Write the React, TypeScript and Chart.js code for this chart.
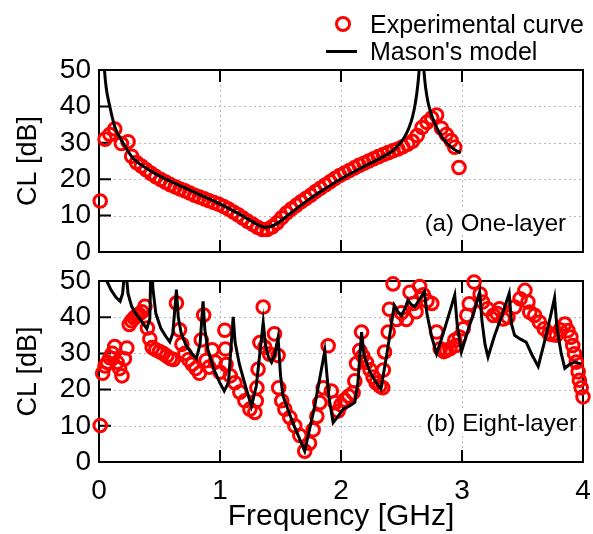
import React, { useEffect, useRef } from "react";
import { Chart, registerables } from "chart.js";

Chart.register(...registerables);

// ---------- data ----------
const yTickValues = [0, 10, 20, 30, 40, 50];
const xTickValues = [0, 1, 2, 3, 4];

// (a) One-layer : experimental curve
const topExpFreq = [
  0.01, 0.05, 0.09, 0.13, 0.185, 0.24, 0.27, 0.31, 0.35, 0.39, 0.43, 0.47, 0.51, 0.55, 0.59,
  0.63, 0.67, 0.71, 0.75, 0.79, 0.83, 0.87, 0.91, 0.95, 0.99, 1.03, 1.07, 1.11, 1.15, 1.19,
  1.23, 1.27, 1.31, 1.35, 1.39, 1.43, 1.47, 1.51, 1.55, 1.59, 1.63, 1.67, 1.71, 1.75, 1.79,
  1.83, 1.87, 1.91, 1.95, 1.99, 2.03, 2.07, 2.11, 2.15, 2.19, 2.23, 2.27, 2.31, 2.35, 2.39,
  2.43, 2.47, 2.51, 2.55, 2.59, 2.63, 2.67, 2.71, 2.75, 2.79, 2.83, 2.87, 2.91, 2.94, 2.975,
];
const topExpCL = [
  14, 31, 32.3, 33.8, 29.8, 30.3, 26.3, 24.6, 23.6, 22.6, 21.6, 20.7, 19.9, 19.2, 18.5,
  17.9, 17.3, 16.8, 16.2, 15.6, 15.1, 14.6, 14.1, 13.6, 13.1, 12.5, 11.8, 11.0, 10.2, 9.3,
  8.4, 7.6, 6.8, 6.2, 6.2, 6.9, 8.0, 9.4, 10.7, 11.8, 12.8, 13.8, 14.7, 15.6, 16.6,
  17.5, 18.4, 19.3, 20.2, 21.0, 21.7, 22.4, 23.1, 23.8, 24.4, 25.0, 25.6, 26.2, 26.8, 27.3,
  27.8, 28.3, 28.9, 29.6, 30.4, 32.0, 34.2, 35.6, 36.8, 37.6, 34.0, 32.3, 30.6, 28.8, 23.2,
];

// (a) One-layer : Mason's model
const topModelFreq = [
  0.03, 0.045, 0.06, 0.09, 0.13, 0.2, 0.28, 0.35, 0.45, 0.55, 0.65, 0.75, 0.85, 0.95, 1.05,
  1.15, 1.25, 1.32, 1.37, 1.42, 1.48, 1.55, 1.65, 1.75, 1.85, 1.95, 2.05, 2.15, 2.25, 2.35,
  2.42, 2.47, 2.52, 2.56, 2.59, 2.615, 2.635, 2.65, 2.66, 2.67, 2.685, 2.7, 2.72, 2.75, 2.79,
  2.84, 2.89, 2.94, 2.99,
];
const topModelCL = [
  58, 50, 45, 39.9, 34.4, 29.9, 25.8, 23.9, 21.8, 20.0, 18.5, 17.0, 15.5, 14.0, 12.4,
  10.6, 8.7, 7.4, 6.8, 7.0, 8.0, 9.8, 12.4, 14.8, 17.0, 19.1, 21.0, 22.8, 24.5, 26.2,
  27.6, 29.2, 31.3, 34, 37, 41, 46, 52, 60, 60, 50, 45, 41, 37.5, 34.2,
  31.3, 29.4, 28.1, 27.2,
];

// (b) Eight-layer : experimental curve
const botExpFreq = [
  0.01, 0.03, 0.05, 0.07, 0.09, 0.11, 0.13, 0.15, 0.17, 0.19, 0.21, 0.23, 0.25, 0.27, 0.29,
  0.31, 0.33, 0.355, 0.38, 0.40, 0.42, 0.44, 0.47, 0.50, 0.53, 0.56, 0.59, 0.615, 0.64, 0.665,
  0.685, 0.71, 0.74, 0.77, 0.80, 0.83, 0.845, 0.865, 0.885, 0.91, 0.935, 0.96, 1.0, 1.04, 1.045,
  1.05, 1.085, 1.123, 1.164, 1.206, 1.247, 1.288, 1.30, 1.305, 1.315, 1.33, 1.357, 1.37, 1.41, 1.45,
  1.48, 1.485, 1.51, 1.536, 1.577, 1.618, 1.66, 1.70, 1.74, 1.77, 1.80, 1.825, 1.853, 1.894, 1.92,
  1.95, 1.976, 2.0, 2.03, 2.065, 2.10, 2.114, 2.128, 2.155, 2.17, 2.18, 2.21, 2.24, 2.265, 2.29,
  2.32, 2.345, 2.35, 2.36, 2.39, 2.40, 2.43, 2.46, 2.50, 2.54, 2.57, 2.60, 2.62, 2.65, 2.68,
  2.71, 2.75, 2.79, 2.82, 2.85, 2.87, 2.90, 2.94, 2.95, 2.98, 3.01, 3.04, 3.06, 3.10, 3.15,
  3.17, 3.21, 3.26, 3.29, 3.31, 3.34, 3.38, 3.435, 3.48, 3.52, 3.545, 3.56, 3.60, 3.64, 3.68,
  3.72, 3.75, 3.78, 3.81, 3.85, 3.875, 3.90, 3.915, 3.93, 3.945, 3.96, 3.97, 3.985, 4.0,
];
const botExpCL = [
  10.1, 24.5, 26.5, 27.5, 28.8, 30.0, 31.9, 27.5, 25.8, 23.8, 28.5, 31.5, 38.0, 39.0, 39.8,
  40.3, 40.8, 41.5, 43.0, 37.0, 34.0, 31.6, 31.0, 30.5, 30.0, 29.3, 28.6, 28.3, 43.9, 36.5,
  32.5, 30.0, 28.3, 27.0, 25.8, 24.5, 33.7, 40.6, 28.0, 26.2, 31.0, 27.6, 24.8, 36.4, 31.2,
  26.9, 23.8, 21.9, 19.3, 16.9, 14.6, 13.7, 16.9, 20.5, 25.6, 33.0, 42.8, 31.7, 29.8, 35.4,
  29.4, 20.5, 16.9, 14.6, 12.3, 10.0, 7.3, 3.0, 5.2, 8.9, 12.6, 16.4, 20.5, 32.1, 19.6,
  16.4, 14.1, 15.8, 17.1, 18.2, 19.1, 22.4, 27.2, 30.8, 35.9, 29.3, 27.5, 25.5, 23.5, 21.9,
  21.0, 20.5, 25.4, 30.4, 35.9, 42.2, 49.2, 39.4, 41.2, 39.4, 46.9, 43.8, 41.5, 48.5, 46.2,
  44.5, 43.8, 35.9, 31.3, 30.5, 30.8, 31.3, 33.6, 32.2, 34.5, 36.8, 40.5, 43.7, 49.7, 46.4,
  44.2, 42.3, 40.5, 41.0, 42.3, 39.5, 40.0, 42.8, 45.1, 47.4, 44.2, 41.4, 40.5, 38.6, 36.8,
  35.4, 35.2, 35.0, 36.5, 38.1, 36.3, 34.5, 32.2, 29.9, 27.6, 24.9, 22.6, 20.5, 18.0,
];

// (b) Eight-layer : Mason's model
const botModelFreq = [
  0.0, 0.03, 0.06, 0.1, 0.14, 0.175, 0.195, 0.21, 0.218, 0.225, 0.24, 0.27, 0.3, 0.35, 0.395,
  0.42, 0.432, 0.445, 0.47, 0.51, 0.55, 0.585, 0.61, 0.64, 0.655, 0.68, 0.72, 0.77, 0.805, 0.835,
  0.86, 0.875, 0.9, 0.95, 1.0, 1.035, 1.07, 1.109, 1.125, 1.16, 1.21, 1.26, 1.3, 1.357, 1.375,
  1.4, 1.426, 1.45, 1.48, 1.5, 1.52, 1.6, 1.7, 1.78, 1.866, 1.9, 1.935, 1.97, 2.017, 2.07,
  2.114, 2.14, 2.17, 2.19, 2.24, 2.29, 2.33, 2.38, 2.44, 2.47, 2.5, 2.53, 2.554, 2.58, 2.61,
  2.65, 2.69, 2.71, 2.75, 2.79, 2.84, 2.89, 2.94, 2.96, 2.995, 3.05, 3.1, 3.146, 3.165, 3.19,
  3.215, 3.27, 3.33, 3.39, 3.41, 3.435, 3.48, 3.53, 3.58, 3.63, 3.68, 3.73, 3.765, 3.785, 3.82,
  3.85, 3.89, 3.93, 3.986,
];
const botModelCL = [
  62, 54, 50.3, 47.5, 45.5, 44.4, 46.5, 52, 60, 52, 46.5, 43, 41.2, 39, 36.8,
  39.5, 60, 48, 41, 37, 34.8, 33.2, 35.5, 47.6, 40, 35.5, 32.2, 29.8, 28.6, 32.5,
  44.4, 36.5, 31, 25.5, 21.8, 19.6, 22, 40.1, 33, 27, 21, 15.4, 21, 38.6, 32.5,
  29, 27.5, 29.5, 34.4, 24, 18.3, 11, 3.0, 15, 30.7, 18, 10.9, 12.4, 14.6, 15.5,
  16.5, 22, 35.9, 29.5, 24.8, 22, 20.2, 30, 43.3, 41.5, 40.5, 42.5, 44.7, 43.5, 42.9,
  45, 47, 41, 34.5, 29.9, 35, 40.5, 46.1, 38, 30.4, 36.5, 41.5, 47, 39, 32.5,
  29, 35, 40.5, 46.6, 38, 35, 34, 33.1, 29.5, 26.4, 33, 40, 45.4, 37, 30,
  25.9, 27, 27.6, 27.1,
];

// ---------- helpers ----------
const FONT = '"Liberation Sans", Arial, Helvetica, sans-serif';
const W = 593;
const TOP_H = 262;
const BOT_H = 272;
const PLOT_LEFT = 99;
const PLOT_RIGHT = 583;

const pts = (xs: number[], ys: number[]) => xs.map((x, i) => ({ x, y: ys[i] }));

const framePlugin = {
  id: "frameAndTicks",
  beforeDatasetsDraw(chart: any) {
    const { ctx, chartArea: a, scales } = chart;
    ctx.save();
    // dotted grid
    ctx.strokeStyle = "#b8b8b8";
    ctx.lineWidth = 1;
    ctx.setLineDash([2, 3]);
    ctx.beginPath();
    for (const v of yTickValues) {
      if (v === 0 || v === 50) continue;
      const y = Math.round(scales.y.getPixelForValue(v)) + 0.5;
      ctx.moveTo(a.left, y);
      ctx.lineTo(a.right, y);
    }
    for (const v of xTickValues) {
      if (v === 0 || v === 4) continue;
      const x = Math.round(scales.x.getPixelForValue(v)) + 0.5;
      ctx.moveTo(x, a.top);
      ctx.lineTo(x, a.bottom);
    }
    ctx.stroke();
    ctx.setLineDash([]);
    // frame
    ctx.strokeStyle = "#000";
    ctx.lineWidth = 2;
    ctx.strokeRect(a.left, a.top, a.right - a.left, a.bottom - a.top);
    // inward ticks
    const L = 12;
    ctx.beginPath();
    for (const v of yTickValues) {
      if (v === 0 || v === 50) continue;
      const y = scales.y.getPixelForValue(v);
      ctx.moveTo(a.left, y);
      ctx.lineTo(a.left + L, y);
    }
    for (const v of xTickValues) {
      if (v === 0 || v === 4) continue;
      const x = scales.x.getPixelForValue(v);
      ctx.moveTo(x, a.bottom);
      ctx.lineTo(x, a.bottom - L);
      ctx.moveTo(x, a.top);
      ctx.lineTo(x, a.top + L);
    }
    ctx.stroke();
    ctx.restore();
  },
};

function makeConfig(
  expX: number[],
  expY: number[],
  modX: number[],
  modY: number[],
  isBottom: boolean
): any {
  return {
    type: "scatter",
    data: {
      datasets: [
        {
          label: "Mason's model",
          data: pts(modX, modY),
          showLine: true,
          borderColor: "#000",
          borderWidth: 3,
          pointRadius: 0,
          tension: 0,
          cubicInterpolationMode: isBottom ? "default" : "monotone",
          order: 0,
        },
        {
          label: "Experimental curve",
          data: pts(expX, expY),
          showLine: false,
          pointStyle: "circle",
          pointRadius: 6.3,
          pointBorderWidth: 3,
          pointBorderColor: "#ff0000",
          borderColor: "#ff0000",
          pointBackgroundColor: "rgba(0,0,0,0)",
          backgroundColor: "rgba(0,0,0,0)",
          clip: false,
          order: 1,
        },
      ],
    },
    options: {
      animation: false,
      responsive: false,
      devicePixelRatio: 1,
      events: [],
      layout: {
        padding: { top: isBottom ? 19 : 70, right: W - PLOT_RIGHT, left: 0, bottom: 0 },
      },
      plugins: { legend: { display: false }, tooltip: { enabled: false } },
      scales: {
        x: {
          type: "linear",
          min: 0,
          max: 4,
          afterBuildTicks: (s: any) => {
            s.ticks = xTickValues.map((v) => ({ value: v }));
          },
          grid: { display: false, drawTicks: false },
          border: { display: false },
          ticks: {
            display: isBottom,
            autoSkip: false,
            color: "#000",
            font: { family: FONT, size: 28 },
            padding: 12,
            maxRotation: 0,
            callback: (v: number) => String(v),
          },
          title: {
            display: isBottom,
            text: "Frequency [GHz]",
            color: "#000",
            font: { family: FONT, size: 30 },
            padding: { top: 0, bottom: -1 },
          },
          afterFit: (s: any) => {
            s.height = isBottom ? BOT_H - 200 : TOP_H - 252;
            s.paddingLeft = 0;
            s.paddingRight = 0;
          },
        },
        y: {
          type: "linear",
          min: 0,
          max: 50,
          afterBuildTicks: (s: any) => {
            s.ticks = yTickValues.map((v) => ({ value: v }));
          },
          grid: { display: false, drawTicks: false },
          border: { display: false },
          ticks: {
            autoSkip: false,
            color: "#000",
            font: { family: FONT, size: 28 },
            padding: 8,
            callback: (v: number) => String(v),
          },
          title: {
            display: true,
            text: "CL [dB]",
            color: "#000",
            font: { family: FONT, size: 27 },
            padding: { top: 12, bottom: 0 },
          },
          afterFit: (s: any) => {
            s.width = PLOT_LEFT;
            s.paddingTop = 0;
            s.paddingBottom = 0;
          },
        },
      },
    },
    plugins: [framePlugin],
  };
}

function Panel(props: { top: number; height: number; cfg: any }) {
  const ref = useRef<HTMLCanvasElement | null>(null);
  useEffect(() => {
    if (!ref.current) return;
    const chart = new Chart(ref.current, props.cfg);
    return () => chart.destroy();
  }, []);
  return (
    <canvas
      ref={ref}
      width={W}
      height={props.height}
      style={{ position: "absolute", left: 0, top: props.top, width: W, height: props.height }}
    />
  );
}

const textStyle: React.CSSProperties = {
  position: "absolute",
  fontFamily: FONT,
  color: "#000",
  whiteSpace: "nowrap",
};

export default function App() {
  const topCfg = makeConfig(topExpFreq, topExpCL, topModelFreq, topModelCL, false);
  const botCfg = makeConfig(botExpFreq, botExpCL, botModelFreq, botModelCL, true);
  return (
    <div
      style={{
        position: "fixed",
        left: 0,
        top: 0,
        width: W,
        height: 534,
        background: "#fff",
        overflow: "hidden",
      }}
    >
      <Panel top={0} height={TOP_H} cfg={topCfg} />
      <Panel top={TOP_H} height={BOT_H} cfg={botCfg} />

      {/* legend */}
      <div
        style={{
          position: "absolute",
          left: 334.5,
          top: 15.5,
          width: 10.5,
          height: 10.5,
          border: "3px solid #ff0000",
          borderRadius: "50%",
        }}
      />
      <div style={{ ...textStyle, left: 370, top: 12, fontSize: 25, lineHeight: "25px" }}>
        Experimental curve
      </div>
      <div
        style={{ position: "absolute", left: 326, top: 50, width: 31, height: 3, background: "#000" }}
      />
      <div style={{ ...textStyle, left: 370, top: 39, fontSize: 25, lineHeight: "25px" }}>
        Mason's model
      </div>

      {/* panel labels */}
      <div
        style={{
          ...textStyle,
          right: W - 566,
          top: 211,
          fontSize: 24,
          lineHeight: "24px",
          background: "#fff",
          paddingLeft: 3,
        }}
      >
        (a) One-layer
      </div>
      <div
        style={{
          ...textStyle,
          right: W - 577,
          top: 411,
          fontSize: 24,
          lineHeight: "24px",
          background: "#fff",
          paddingLeft: 3,
        }}
      >
        (b) Eight-layer
      </div>
    </div>
  );
}
